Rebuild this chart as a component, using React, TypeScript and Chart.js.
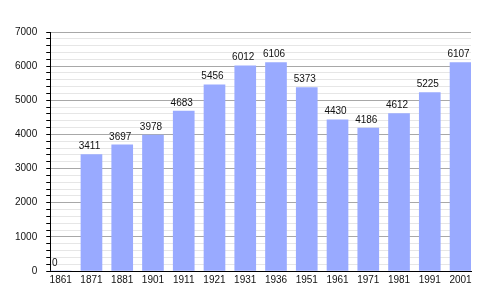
import React, { useEffect, useRef } from "react";
import { Chart, registerables } from "chart.js";

Chart.register(...registerables);

const years = ["1861", "1871", "1881", "1901", "1911", "1921", "1931", "1936", "1951", "1961", "1971", "1981", "1991", "2001"];
const population = [0, 3411, 3697, 3978, 4683, 5456, 6012, 6106, 5373, 4430, 4186, 4612, 5225, 6107];
const yMax = 7000;
const majorStep = 1000;
const minorStep = 200;

const FONT = "'Liberation Sans', Arial, sans-serif";

const valueLabels = {
  id: "valueLabels",
  afterDatasetsDraw(chart: any) {
    const ctx = chart.ctx;
    const meta = chart.getDatasetMeta(0);
    ctx.save();
    ctx.font = `10px ${FONT}`;
    ctx.fillStyle = "#111";
    ctx.textAlign = "center";
    ctx.textBaseline = "bottom";
    meta.data.forEach((bar: any, i: number) => {
      const v = population[i];
      const x = v === 0 ? bar.x - 6 : bar.x - 2;
      ctx.fillText(String(v), x, bar.y - 3);
    });
    ctx.restore();
  },
};

export default function App() {
  const ref = useRef<HTMLCanvasElement>(null);
  useEffect(() => {
    document.body.style.margin = "0";
    const chart = new Chart(ref.current!, {
      type: "bar",
      data: {
        datasets: [
          {
            data: population.map((v, i) => ({ x: i, y: v })),
            backgroundColor: "#99aaff",
            borderWidth: 0,
            barThickness: 21,
          },
        ],
      },
      options: {
        animation: false,
        responsive: false,
        maintainAspectRatio: false,
        layout: { padding: { top: 32, right: 29, left: 6, bottom: 11 } },
        plugins: { legend: { display: false }, tooltip: { enabled: false } },
        scales: {
          x: {
            type: "linear",
            offset: false,
            min: -0.34,
            max: years.length - 1 + 0.34,
            afterBuildTicks: (scale: any) => {
              scale.ticks = years.map((_, i) => ({ value: i }));
            },
            ticks: {
              autoSkip: false,
              maxRotation: 0,
              padding: 3,
              color: "#111",
              font: { family: FONT, size: 10 },
              callback: (v: any) => years[v] ?? "",
            },
            grid: { display: false, drawTicks: false },
            border: { display: true, color: "#000", width: 1 },
          },
          y: {
            min: 0,
            max: yMax,
            ticks: {
              stepSize: minorStep,
              autoSkip: false,
              padding: 9,
              color: "#111",
              font: { family: FONT, size: 10 },
              callback: (v: any) => (v % majorStep === 0 ? String(v) : ""),
            },
            grid: {
              color: (c: any) => (c.tick && c.tick.value % majorStep === 0 ? "#a8a8a8" : "#e6e6e6"),
              tickColor: "#000",
              tickLength: 4,
              lineWidth: 1,
            },
            border: { display: true, color: "#000", width: 1 },
          },
        },
      },
      plugins: [valueLabels],
    });
    return () => chart.destroy();
  }, []);
  return <canvas ref={ref} width={500} height={300} style={{ display: "block" }} />;
}
